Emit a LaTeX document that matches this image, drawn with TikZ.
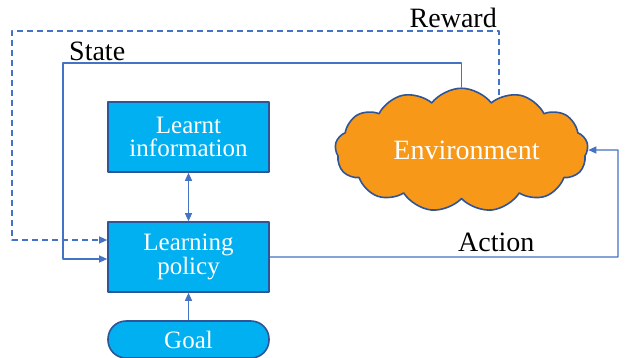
\documentclass[tikz,border=0pt]{standalone}
\usepackage{fontspec}
\setmainfont{Liberation Serif}
\newfontfamily\timesfont{Liberation Serif}
\usetikzlibrary{shapes.symbols,arrows.meta}
\definecolor{boxcyan}{RGB}{0,176,240}
\definecolor{boxedge}{RGB}{47,85,151}
\definecolor{linkblue}{RGB}{68,114,196}
\definecolor{envorange}{RGB}{248,152,24}
\begin{document}
\begin{tikzpicture}[x=1pt,y=-1pt,line join=round,>={Triangle[length=8pt,width=7pt]}]
	\tikzset{box/.style={draw=boxedge,line width=1.6pt,fill=boxcyan,text=white,minimum width=161pt,minimum height=70pt,align=center,inner sep=0pt,font=\timesfont\fontsize{25}{22.5}\selectfont},
		link/.style={draw=linkblue,line width=1.2pt},
		lbl/.style={inner sep=0pt,font=\timesfont\fontsize{28}{30}\selectfont}}
	\useasboundingbox (0,0) rectangle (632,357);
	% blocks
	\node[box] (info) at (188.5,137) {Learnt\\information};
	\node[box] (policy) at (188.5,257) {Learning\\policy};
	\node[box,rounded corners=18pt,minimum height=37pt] (goal) at (188.5,339.5) {Goal};
	\node[cloud,cloud puffs=13,cloud puff arc=105,aspect=2.2,draw=boxedge,line width=1.6pt,fill=envorange,text=white,minimum width=253pt,minimum height=122pt,inner sep=0pt,font=\timesfont\fontsize{28}{30}\selectfont] (env) at (461.5,150) {\hspace*{10pt}Environment};
	\coordinate (rw) at (499,95);
	% loops
	\draw[link,<->] (info) -- (policy);
	\draw[link,->] (goal) -- (policy);
	\draw[link,->] (env.north) |- (63,63) |- (policy.west |- 0,259);
	\draw[link,dash pattern=on 6pt off 4pt,->] (rw) |- (12,31) |- (policy.west |- 0,240);
	\draw[link,->] (policy.east) -| (618,150) -- (env.east);
	% labels
	\node[lbl,anchor=base west] (state) at (69,60) {State};
	\node[lbl,anchor=base east] (reward) at (497,27) {Reward};
	\node[lbl,anchor=base west] (action) at (458,251) {Action};
\end{tikzpicture}
\end{document}
